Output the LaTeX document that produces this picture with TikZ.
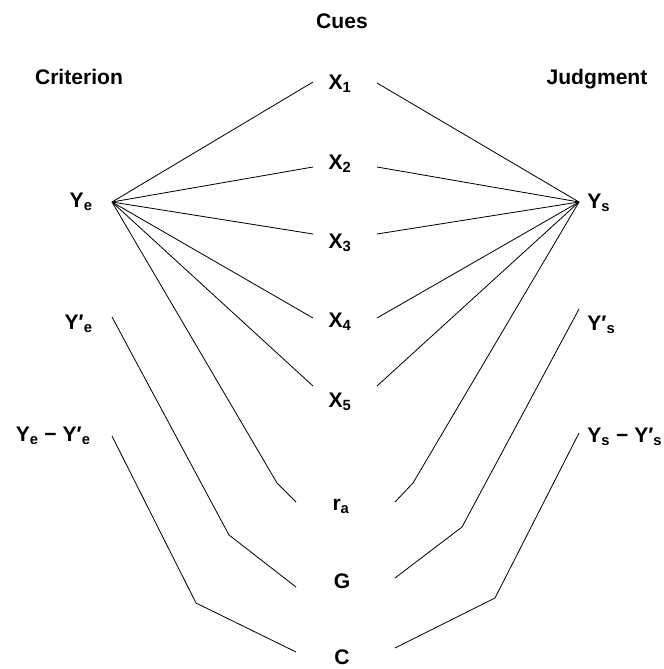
\documentclass[tikz,border=0pt]{standalone}
\usepackage{fontspec}
\setmainfont{Liberation Sans}
\begin{document}
\begin{tikzpicture} [x = 0.03cm, y = -0.03cm, line width = 0.7pt,
	every node/.style = {font = \fontsize{18}{22}\selectfont\bfseries, inner sep = 0pt}]
	\useasboundingbox (0,0) rectangle (663,669);
	% headings
	\node [anchor = base] (cues) at (342,28) {Cues};
	\node [anchor = base] (crit) at (79,84) {Criterion};
	\node [anchor = base] (judg) at (597,84) {Judgment};
	% cues in the middle
	\node [anchor = base] (x1) at (340,89) {X\textsubscript{1}};
	\node [anchor = base] (x2) at (340,169) {X\textsubscript{2}};
	\node [anchor = base] (x3) at (340,248) {X\textsubscript{3}};
	\node [anchor = base] (x4) at (340,327) {X\textsubscript{4}};
	\node [anchor = base] (x5) at (340,407) {X\textsubscript{5}};
	\node [anchor = base] (ra) at (341,510) {r\textsubscript{a}};
	\node [anchor = base] (g) at (342,588) {G};
	\node [anchor = base] (c) at (342,664) {C};
	% criterion side
	\node [anchor = base east] (ye) at (93,207) {Y\textsubscript{e}};
	\node [anchor = base east] (yep) at (93,329) {Y′\textsubscript{e}};
	\node [anchor = base east] (yed) at (91,441) {Y\textsubscript{e} − Y′\textsubscript{e}};
	% judgment side
	\node [anchor = base west] (ys) at (587,208) {Y\textsubscript{s}};
	\node [anchor = base west] (ysp) at (587,330) {Y′\textsubscript{s}};
	\node [anchor = base west] (ysd) at (587,442) {Y\textsubscript{s} − Y′\textsubscript{s}};
	% hubs and line ends
	\coordinate (he) at (112,202);
	\coordinate (hs) at (579,202);
	\coordinate (x1l) at (313,82);
	\coordinate (x2l) at (313,167);
	\coordinate (x3l) at (313,234);
	\coordinate (x4l) at (313,318);
	\coordinate (x5l) at (313,386);
	\coordinate (x1r) at (377,83);
	\coordinate (x2r) at (377,167);
	\coordinate (x3r) at (377,234);
	\coordinate (x4r) at (377,318);
	\coordinate (x5r) at (377,386);
	\coordinate (ral) at (296,502);
	\coordinate (rar) at (395,502);
	\coordinate (gl) at (296,587);
	\coordinate (gr) at (395,578);
	\coordinate (cl) at (296,652);
	\coordinate (cr) at (395,648);
	\coordinate (yepl) at (112,317);
	\coordinate (yedl) at (112,436);
	\coordinate (yspr) at (579,309);
	\coordinate (ysdr) at (579,433);
	% criterion lines
	\draw (he) -- (x1l);
	\draw (he) -- (x2l);
	\draw (he) -- (x3l);
	\draw (he) -- (x4l);
	\draw (he) -- (x5l);
	\draw (he) -- (277,483) -- (ral);
	\draw (yepl) -- (229,535) -- (gl);
	\draw (yedl) -- (196,603) -- (cl);
	% judgment lines
	\draw (hs) -- (x1r);
	\draw (hs) -- (x2r);
	\draw (hs) -- (x3r);
	\draw (hs) -- (x4r);
	\draw (hs) -- (x5r);
	\draw (hs) -- (413,483) -- (rar);
	\draw (yspr) -- (462,527) -- (gr);
	\draw (ysdr) -- (495,598) -- (cr);
\end{tikzpicture}
\end{document}
